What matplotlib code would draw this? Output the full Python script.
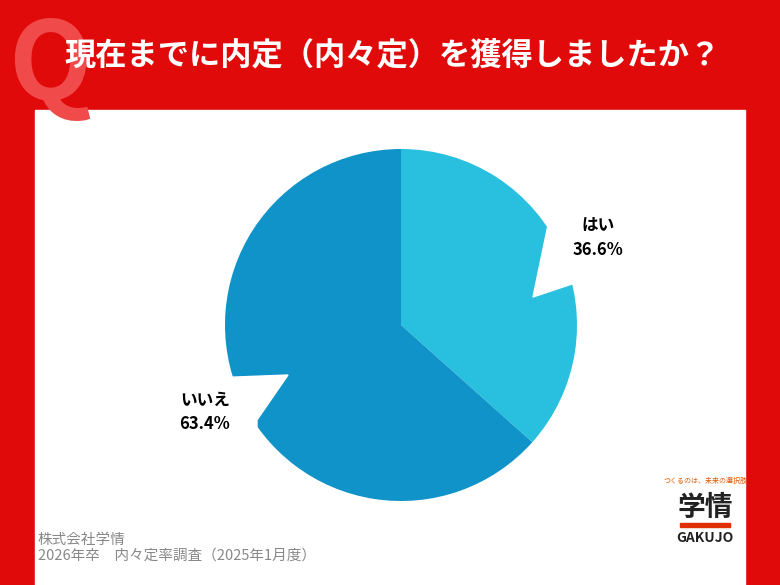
import matplotlib
matplotlib.use("Agg")
import matplotlib.pyplot as plt
from matplotlib.patches import Rectangle

labels = ["はい", "いいえ"]
values = [36.6, 63.4]
colors = ["#29c0df", "#0f93c8"]
title = "現在までに内定（内々定）を獲得しましたか？"
source1 = "株式会社学情"
source2 = "2026年卒　内々定率調査（2025年1月度）"

plt.rcParams["font.family"] = "Noto Sans CJK JP"
fig = plt.figure(figsize=(7.8, 5.85), dpi=100)
fig.patch.set_facecolor("#e00a0a")
bg = fig.add_axes([0, 0, 1, 1]); bg.set_xlim(0, 780); bg.set_ylim(585, 0); bg.axis("off")
bg.text(8, 68, "Q", fontsize=78, fontweight="bold", color="#f04a4a", va="center", ha="left")
bg.add_patch(Rectangle((35, 110), 710, 475, color="white"))
bg.text(393, 55, title, fontsize=22.5, fontweight="bold", color="white", ha="center", va="center")
bg.text(38, 540, source1, fontsize=10.5, color="#888888", va="center")
bg.text(38, 556, source2, fontsize=10.5, color="#888888", va="center")
bg.text(705, 483, "つくるのは、未来の選択肢", fontsize=5, color="#e05a00", ha="center")
bg.text(705, 508, "学情", fontsize=20, fontweight="bold", color="#222222", ha="center", va="center")
bg.add_patch(Rectangle((680, 523), 50, 4, color="#e03000"))
bg.text(705, 538, "GAKUJO", fontsize=10, fontweight="bold", color="#222222", ha="center", va="center")

ax = fig.add_axes([(401-176)/780, 1-(325+176)/585, 352/780, 352/585])
ax.pie(values, colors=colors, startangle=90, counterclock=False, radius=1,
       wedgeprops=dict(linewidth=0))
ax.set_xlim(-1, 1); ax.set_ylim(-1, 1)
ax.set_aspect("equal")

top = fig.add_axes([0, 0, 1, 1]); top.set_xlim(0, 780); top.set_ylim(585, 0); top.axis("off")
top.text(598, 238, f"{labels[0]}\n{values[0]}%", fontsize=12, fontweight="bold",
         ha="center", va="center", linespacing=1.4)
top.text(205, 412, f"{labels[1]}\n{values[1]}%", fontsize=12, fontweight="bold",
         ha="center", va="center", linespacing=1.4)
top.fill([548, 556, 590, 590, 575, 533], [225, 240, 240, 283, 283, 297], color="white")
top.fill([210, 288, 257, 257, 210], [378, 375, 420, 440, 440], color="white")
fig.savefig("out.png", dpi=100, facecolor=fig.get_facecolor())
